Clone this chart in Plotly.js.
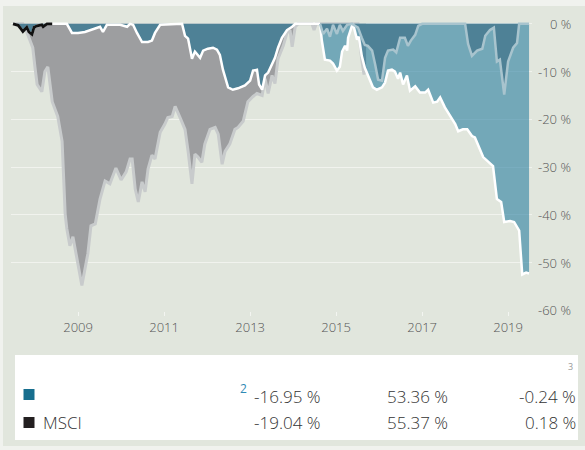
<!DOCTYPE html>
<html><head><meta charset="utf-8">
<script src="https://cdn.plot.ly/plotly-3.0.1.min.js"></script>
<style>html,body{margin:0;padding:0;background:#f0f2ee}</style>
</head><body><div id="chart" style="width:585px;height:450px"></div>
<script>
// ---- data (dates as decimal years, drawdowns in %) ----
const msciYears = [2007.49,2007.72,2007.77,2007.84,2007.95,2008.00,2008.05,2008.16,2008.23,2008.30,2008.40,2008.53,2008.63,2008.70,2008.74,2008.81,2008.88,2009.09,2009.23,2009.30,2009.40,2009.51,2009.63,2009.74,2009.88,2010.00,2010.12,2010.21,2010.26,2010.33,2010.40,2010.49,2010.56,2010.63,2010.72,2010.79,2010.91,2011.02,2011.09,2011.19,2011.26,2011.37,2011.49,2011.56,2011.65,2011.72,2011.79,2011.88,2011.95,2012.07,2012.19,2012.26,2012.35,2012.42,2012.53,2012.65,2012.72,2012.84,2012.95,2013.07,2013.16,2013.28,2013.35,2013.42,2013.51,2013.58,2013.65,2013.77,2013.86,2013.93,2013.98,2014.05,2014.12,2014.44,2014.49,2014.54,2015.51,2015.60,2015.65,2015.70];
const msciDrawdown = [0,0,-0.8,-2.3,-5.0,-9.2,-12.7,-14.2,-10.0,-9.0,-16.3,-19.4,-24.6,-39.8,-42.9,-46.5,-44.6,-54.8,-48.1,-42.3,-41.9,-36.7,-32.9,-33.5,-30.2,-32.7,-31.0,-28.3,-28.3,-34.6,-37.3,-33.1,-35.2,-30.4,-27.5,-28.3,-22.7,-21.0,-19.6,-19.4,-17.3,-19.6,-22.1,-26.7,-33.5,-27.3,-27.9,-29.0,-25.2,-22.1,-21.7,-23.1,-29.4,-26.7,-25.2,-22.1,-21.7,-20.4,-16.3,-15.2,-14.6,-15.0,-11.5,-14.6,-10.8,-12.5,-7.3,-4.6,-1.9,-1.3,-4.8,-0.6,0,0,-1.3,0,0,-7.5,-10.6,-9.0];

const fundYears1 = [2007.49,2007.61,2007.67,2007.72,2007.81,2007.86,2007.93,2007.98,2008.05,2008.16,2008.19,2008.28,2008.40,2008.74,2008.86,2009.00,2009.16,2009.28,2009.40,2009.51,2009.58,2009.67,2009.98,2010.09,2010.14,2010.21,2010.28,2010.37,2010.49,2010.63,2010.72,2010.79,2010.91,2011.42,2011.49,2011.56,2011.65,2011.72,2011.84,2011.91,2012.02,2012.14,2012.23,2012.30,2012.37,2012.49,2012.60,2012.72,2012.88,2013.00,2013.07,2013.16,2013.21,2013.28,2013.35,2013.42,2013.51,2013.58,2013.65,2013.74,2013.86,2013.98,2014.05,2014.63];
const fundDrawdown1 = [0,-0.3,-1.0,-1.6,-0.7,-1.7,-2.2,-0.7,-0.4,-0.2,-0.6,0,0,0,-1.9,-1.9,-1.7,-1.3,-0.8,-0.6,-1.7,-0.2,-0.2,-0.4,-0.6,0,-0.2,-1.9,-3.8,-3.8,-3.5,-1.9,-0.2,0,-2.5,-3.1,-7.3,-5.8,-7.1,-5.6,-5.2,-5.0,-5.4,-6.5,-9.6,-13.3,-13.8,-13.5,-12.9,-11.9,-9.8,-9.6,-12.7,-13.8,-10.8,-10.2,-8.5,-7.1,-5.0,-2.9,-1.3,-0.6,0,0];
const blackLineUntil = 2008.40;

const fundYears2 = [2014.63,2014.67,2014.74,2014.86,2014.93,2015.02,2015.09,2015.14,2015.21,2015.26,2015.28,2015.37,2015.40,2015.49,2015.53,2015.60,2015.67,2015.74,2015.86,2015.95,2016.07,2016.14,2016.21,2016.30,2016.37,2016.44,2016.49,2016.56,2016.65,2016.72,2016.84,2016.95,2017.07,2017.14,2017.26,2017.35,2017.42,2017.53,2017.65,2017.77,2017.84,2017.95,2018.05,2018.16,2018.23,2018.35,2018.42,2018.53,2018.65,2018.74,2018.84,2018.91,2019.05,2019.14,2019.26,2019.33,2019.42,2019.49];
const fundDrawdown2 = [0,-3.5,-7.5,-7.7,-8.3,-9.8,-9.0,-5.8,-4.6,-5.6,-2.9,-0.4,-0.2,-3.3,-2.7,-6.7,-9.2,-10.8,-13.3,-13.8,-13.3,-12.3,-9.8,-9.6,-10.0,-11.5,-10.2,-12.7,-10.8,-14.0,-13.1,-14.4,-14.4,-13.8,-16.5,-16.3,-15.4,-17.5,-19.4,-21.0,-22.5,-22.1,-22.1,-23.5,-23.8,-26.3,-27.9,-28.8,-29.8,-36.7,-37.3,-41.5,-41.3,-41.5,-43.3,-52.5,-52.1,-52.3];

const msciYears2 = [2014.63,2014.70,2014.79,2014.86,2014.93,2015.02,2015.09,2015.16,2015.26,2015.37,2015.44,2015.51,2015.60,2015.67,2015.74,2015.84,2015.91,2015.98,2016.07,2016.14,2016.21,2016.33,2016.40,2016.49,2016.60,2016.67,2016.74,2016.84,2016.91,2017.00,2018.00,2018.07,2018.16,2018.28,2018.40,2018.47,2018.58,2018.67,2018.74,2018.81,2018.91,2019.00,2019.12,2019.21,2019.26,2019.49];
const msciDrawdown2 = [0,-2.1,-1.0,-2.7,-0.2,-2.1,-0.2,-1.5,-0.2,0,-0.4,-0.8,-2.9,-4.4,-4.6,-5.6,-8.5,-11.7,-11.9,-7.1,-5.6,-5.4,-6.0,-2.9,-2.9,-4.6,-3.5,-2.3,-0.4,0,0,-4.2,-6.7,-5.6,-5.2,-2.5,-1.3,-0.8,-7.9,-7.5,-14.8,-7.9,-5.0,-4.0,0,0];

const yearTicks = [2009,2011,2013,2015,2017,2019];
const yTicks = [0,-10,-20,-30,-40,-50,-60];

const rowNames = ['', 'MSCI'];
const col1 = [-16.95, -19.04];
const col2 = [53.36, 55.37];
const col3 = [-0.24, 0.18];
const rowColors = ['#176e8e', '#231f20'];
const footnote1 = '2';
const footnote2 = '3';

// ---- helpers ----
function toDate(t){
  const y = Math.floor(t);
  const a = Date.UTC(y,0,1), b = Date.UTC(y+1,0,1);
  return new Date(a + (t - y) * (b - a)).toISOString().slice(0,10);
}
const dates = arr => arr.map(toDate);
function fmt(v){ return v.toFixed(2) + ' %'; }

const W = 585, H = 450;
const M = {l: 11, r: 53, t: 21, b: 139};
const pw = W - M.l - M.r, ph = H - M.t - M.b;
const px = x => (x - M.l) / pw;
const py = y => (H - M.b - y) / ph;

const BG = '#e1e6dd';
const FONT = '"Open Sans", "DejaVu Sans", sans-serif';

const blackIdx = fundYears1.filter(t => t <= blackLineUntil).length;

const traces = [
  {x: dates(msciYears), y: msciDrawdown, type: 'scatter', mode: 'lines', fill: 'tozeroy',
   fillcolor: '#9d9ea0', line: {color: '#c8cbcc', width: 3}, hoverinfo: 'skip'},
  {x: dates(fundYears1), y: fundDrawdown1, type: 'scatter', mode: 'lines', fill: 'tozeroy',
   fillcolor: '#4e8196', line: {color: '#ffffff', width: 2.5}, hoverinfo: 'skip'},
  {x: dates(fundYears1.slice(0, blackIdx)), y: fundDrawdown1.slice(0, blackIdx), type: 'scatter', mode: 'lines',
   line: {color: '#111111', width: 2.8}, hoverinfo: 'skip'},
  {x: dates(fundYears2), y: fundDrawdown2, type: 'scatter', mode: 'lines', fill: 'tozeroy',
   fillcolor: 'rgba(42,127,160,0.6)', line: {color: '#ffffff', width: 2.5}, hoverinfo: 'skip'},
  {x: dates(msciYears2), y: msciDrawdown2, type: 'scatter', mode: 'lines', fill: 'tozeroy',
   fillcolor: '#4e8196', line: {color: '#a8c4ce', width: 2.5}, hoverinfo: 'skip'}
];

const annotations = [];
yTicks.forEach(v => annotations.push({
  xref: 'paper', yref: 'y', x: px(573), y: v, text: v + ' %', showarrow: false,
  xanchor: 'right', yanchor: 'middle', font: {family: FONT, size: 13, color: '#555555', weight: 300}
}));

const rowY = [396, 422];
const tf = {family: FONT, size: 17, color: '#333333', weight: 300};
rowNames.forEach((n, i) => {
  if (n) annotations.push({xref: 'paper', yref: 'paper', x: px(41), y: py(rowY[i]), text: n,
    showarrow: false, xanchor: 'left', yanchor: 'middle', font: tf});
  annotations.push({xref: 'paper', yref: 'paper', x: px(322), y: py(rowY[i]), text: fmt(col1[i]),
    showarrow: false, xanchor: 'right', yanchor: 'middle', font: tf});
  annotations.push({xref: 'paper', yref: 'paper', x: px(450), y: py(rowY[i]), text: fmt(col2[i]),
    showarrow: false, xanchor: 'right', yanchor: 'middle', font: tf});
  annotations.push({xref: 'paper', yref: 'paper', x: px(578), y: py(rowY[i]), text: fmt(col3[i]),
    showarrow: false, xanchor: 'right', yanchor: 'middle', font: tf});
});
annotations.push({xref: 'paper', yref: 'paper', x: px(249), y: py(389), text: footnote1,
  showarrow: false, xanchor: 'right', yanchor: 'middle', font: {family: FONT, size: 12, color: '#2f8ab5'}});
annotations.push({xref: 'paper', yref: 'paper', x: px(575), y: py(366), text: footnote2,
  showarrow: false, xanchor: 'right', yanchor: 'middle', font: {family: FONT, size: 9, color: '#999999'}});

const shapes = [
  {type: 'rect', xref: 'paper', yref: 'paper', x0: px(3), x1: px(585), y0: py(6), y1: py(446),
   fillcolor: BG, line: {width: 0}, layer: 'below'},
  {type: 'rect', xref: 'paper', yref: 'paper', x0: px(15), x1: px(578), y0: py(355), y1: py(440),
   fillcolor: '#ffffff', line: {width: 0}},
  {type: 'rect', xref: 'paper', yref: 'paper', x0: px(23.5), x1: px(34.5), y0: py(389), y1: py(400),
   fillcolor: rowColors[0], line: {width: 0}},
  {type: 'rect', xref: 'paper', yref: 'paper', x0: px(23.5), x1: px(34.5), y0: py(417), y1: py(428),
   fillcolor: rowColors[1], line: {width: 0}}
];

const layout = {
  width: W, height: H, margin: M,
  paper_bgcolor: '#f0f2ee', plot_bgcolor: BG, showlegend: false,
  font: {family: FONT, color: '#555555'},
  xaxis: {type: 'date', range: [toDate(2007.442), toDate(2019.558)],
    tickvals: yearTicks.map(y => toDate(y)), ticktext: yearTicks.map(String),
    showgrid: false, zeroline: false, showline: false,
    ticks: 'outside', ticklen: 4, tickcolor: '#f3f5f1', tickwidth: 1,
    tickfont: {family: FONT, size: 13, color: '#555555', weight: 300}, fixedrange: true},
  yaxis: {range: [-60.15, 0.6], tickvals: yTicks, showticklabels: false,
    showgrid: true, gridcolor: '#f1f3ee', gridwidth: 1, zeroline: false, showline: false,
    ticks: '', fixedrange: true},
  annotations: annotations, shapes: shapes
};

Plotly.newPlot('chart', traces, layout, {displayModeBar: false, staticPlot: true});
</script></body></html>
